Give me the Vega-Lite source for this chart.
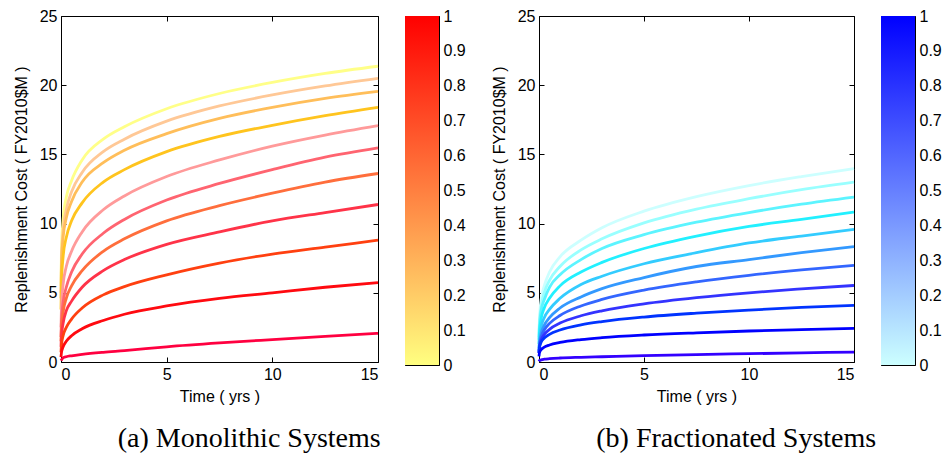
{
  "$schema": "https://vega.github.io/schema/vega-lite/v6.json",
  "background": "white",
  "padding": {"left": 12, "top": 7, "right": 3, "bottom": 5},
  "datasets": {
    "mono": [
      {"t": 0, "L1": 5.5, "L2": 5.0, "L3": 4.6, "L4": 3.8, "L5": 2.5, "L6": 1.8, "L7": 1.5, "L8": 1.1, "L9": 0.7, "L10": 0.35, "L11": 0.1},
      {"t": 0.02, "L1": 8.0, "L2": 7.3, "L3": 6.9, "L4": 5.7, "L5": 3.9, "L6": 2.9, "L7": 2.4, "L8": 1.8, "L9": 1.2, "L10": 0.66, "L11": 0.15},
      {"t": 0.1, "L1": 10.3, "L2": 9.5, "L3": 9.0, "L4": 7.6, "L5": 5.6, "L6": 4.3, "L7": 3.6, "L8": 2.8, "L9": 1.9, "L10": 1.1, "L11": 0.3},
      {"t": 0.25, "L1": 11.9, "L2": 11.0, "L3": 10.4, "L4": 9.0, "L5": 6.9, "L6": 5.4, "L7": 4.6, "L8": 3.7, "L9": 2.5, "L10": 1.5, "L11": 0.38},
      {"t": 0.5, "L1": 13.1, "L2": 12.3, "L3": 11.6, "L4": 10.2, "L5": 8.0, "L6": 6.5, "L7": 5.5, "L8": 4.4, "L9": 3.1, "L10": 1.9, "L11": 0.45},
      {"t": 1, "L1": 14.6, "L2": 13.7, "L3": 13.0, "L4": 11.5, "L5": 9.4, "L6": 7.8, "L7": 6.6, "L8": 5.4, "L9": 3.9, "L10": 2.4, "L11": 0.55},
      {"t": 2, "L1": 16.1, "L2": 15.2, "L3": 14.4, "L4": 13.0, "L5": 11.0, "L6": 9.3, "L7": 8.0, "L8": 6.6, "L9": 4.85, "L10": 3.0, "L11": 0.7},
      {"t": 3, "L1": 17.0, "L2": 16.1, "L3": 15.3, "L4": 13.9, "L5": 12.0, "L6": 10.3, "L7": 8.9, "L8": 7.4, "L9": 5.45, "L10": 3.45, "L11": 0.82},
      {"t": 5, "L1": 18.3, "L2": 17.4, "L3": 16.5, "L4": 15.2, "L5": 13.4, "L6": 11.7, "L7": 10.2, "L8": 8.5, "L9": 6.3, "L10": 4.05, "L11": 1.1},
      {"t": 7.5, "L1": 19.4, "L2": 18.5, "L3": 17.6, "L4": 16.3, "L5": 14.6, "L6": 12.9, "L7": 11.3, "L8": 9.4, "L9": 7.15, "L10": 4.6, "L11": 1.38},
      {"t": 10, "L1": 20.2, "L2": 19.3, "L3": 18.4, "L4": 17.1, "L5": 15.6, "L6": 13.9, "L7": 12.2, "L8": 10.2, "L9": 7.8, "L10": 5.0, "L11": 1.62},
      {"t": 12.5, "L1": 20.85, "L2": 19.95, "L3": 19.05, "L4": 17.8, "L5": 16.4, "L6": 14.8, "L7": 13.0, "L8": 10.8, "L9": 8.3, "L10": 5.4, "L11": 1.85},
      {"t": 15, "L1": 21.37, "L2": 20.5, "L3": 19.56, "L4": 18.4, "L5": 17.08, "L6": 15.47, "L7": 13.62, "L8": 11.38, "L9": 8.8, "L10": 5.73, "L11": 2.07}
    ],
    "frac": [
      {"t": 0, "R1": 2.0, "R2": 1.8, "R3": 1.6, "R4": 1.3, "R5": 1.0, "R6": 0.8, "R7": 0.7, "R8": 0.65, "R9": 0.65, "R10": 0.4, "R11": 0.05},
      {"t": 0.02, "R1": 3.1, "R2": 2.8, "R3": 2.5, "R4": 2.1, "R5": 1.6, "R6": 1.3, "R7": 1.17, "R8": 1.06, "R9": 1.02, "R10": 0.65, "R11": 0.1},
      {"t": 0.1, "R1": 4.5, "R2": 4.0, "R3": 3.7, "R4": 3.1, "R5": 2.5, "R6": 2.05, "R7": 1.8, "R8": 1.58, "R9": 1.43, "R10": 0.89, "R11": 0.15},
      {"t": 0.25, "R1": 5.5, "R2": 5.0, "R3": 4.5, "R4": 3.9, "R5": 3.2, "R6": 2.65, "R7": 2.31, "R8": 1.99, "R9": 1.73, "R10": 1.07, "R11": 0.2},
      {"t": 0.5, "R1": 6.5, "R2": 5.9, "R3": 5.4, "R4": 4.6, "R5": 3.8, "R6": 3.2, "R7": 2.79, "R8": 2.36, "R9": 2.0, "R10": 1.23, "R11": 0.24},
      {"t": 1, "R1": 7.6, "R2": 6.9, "R3": 6.3, "R4": 5.5, "R5": 4.6, "R6": 3.9, "R7": 3.36, "R8": 2.81, "R9": 2.31, "R10": 1.41, "R11": 0.29},
      {"t": 2, "R1": 8.8, "R2": 8.1, "R3": 7.4, "R4": 6.5, "R5": 5.6, "R6": 4.7, "R7": 4.05, "R8": 3.34, "R9": 2.68, "R10": 1.62, "R11": 0.34},
      {"t": 3, "R1": 9.7, "R2": 8.9, "R3": 8.2, "R4": 7.2, "R5": 6.2, "R6": 5.3, "R7": 4.52, "R8": 3.7, "R9": 2.92, "R10": 1.76, "R11": 0.38},
      {"t": 5, "R1": 10.9, "R2": 10.05, "R3": 9.2, "R4": 8.2, "R5": 7.1, "R6": 6.1, "R7": 5.19, "R8": 4.2, "R9": 3.25, "R10": 1.95, "R11": 0.46},
      {"t": 7.5, "R1": 11.95, "R2": 11.05, "R3": 10.1, "R4": 9.1, "R5": 7.9, "R6": 6.9, "R7": 5.79, "R8": 4.65, "R9": 3.53, "R10": 2.11, "R11": 0.54},
      {"t": 10, "R1": 12.75, "R2": 11.8, "R3": 10.8, "R4": 9.8, "R5": 8.6, "R6": 7.4, "R7": 6.26, "R8": 5.0, "R9": 3.75, "R10": 2.24, "R11": 0.6},
      {"t": 12.5, "R1": 13.4, "R2": 12.45, "R3": 11.4, "R4": 10.3, "R5": 9.1, "R6": 7.9, "R7": 6.65, "R8": 5.28, "R9": 3.94, "R10": 2.34, "R11": 0.66},
      {"t": 15, "R1": 13.98, "R2": 12.99, "R3": 11.91, "R4": 10.83, "R5": 9.58, "R6": 8.33, "R7": 6.98, "R8": 5.53, "R9": 4.09, "R10": 2.43, "R11": 0.72}
    ],
    "bar": [{"x0": 0, "x1": 1, "y0": 0, "y1": 1}]
  },
  "spacing": 24,
  "resolve": {"scale": {"stroke": "independent"}},
  "hconcat": [
    {
      "spacing": 19,
      "title": {"text": "(a) Monolithic Systems", "orient": "bottom", "anchor": "middle", "offset": 20, "dx": 10},
      "hconcat": [
        {
          "width": 317, "height": 346,
          "data": {"name": "mono"},
          "transform": [{"fold": ["L1","L2","L3","L4","L5","L6","L7","L8","L9","L10","L11"], "as": ["s", "v"]}],
          "layer": [
            {
              "mark": {"type": "line", "strokeWidth": 2.8, "interpolate": "monotone"},
              "encoding": {
                "x": {"field": "t", "type": "quantitative", "scale": {"domain": [0, 15], "nice": false},
                      "axis": {"orient": "bottom", "values": [0, 5, 10, 15], "title": "Time ( yrs )"}},
                "y": {"field": "v", "type": "quantitative", "scale": {"domain": [0, 25], "nice": false},
                      "axis": {"orient": "left", "values": [0, 5, 10, 15, 20, 25], "title": "Replenishment Cost ( FY2010$M )", "titlePadding": 10}},
                "stroke": {"field": "s", "type": "nominal",
                           "scale": {"domain": ["L1","L2","L3","L4","L5","L6","L7","L8","L9","L10","L11"],
                                     "range": ["#ffff88","#ffc896","#ffbe5a","#ffc41e","#ff9a9a","#ff6470","#ff6e3c","#ff3348","#ff4010","#ff0a10","#ff0040"]},
                           "legend": null}
              }
            },
            {
              "mark": {"type": "line", "opacity": 0},
              "encoding": {
                "x": {"field": "t", "type": "quantitative", "axis": {"orient": "top", "values": [0, 5, 10, 15], "labels": false, "title": null}},
                "y": {"field": "v", "type": "quantitative", "axis": {"orient": "right", "values": [0, 5, 10, 15, 20, 25], "labels": false, "title": null}},
                "detail": {"field": "s"}
              }
            }
          ],
          "resolve": {"axis": {"x": "independent", "y": "independent"}}
        },
        {
          "width": 34, "height": 349,
          "data": {"name": "bar"},
          "layer": [
            {
              "mark": {"type": "rect", "fill": {"gradient": "linear", "x1": 0, "y1": 1, "x2": 0, "y2": 0,
                        "stops": [{"offset": 0, "color": "#ffff80"}, {"offset": 1, "color": "#ff0000"}]}},
              "encoding": {
                "x": {"field": "x0", "type": "quantitative", "scale": {"domain": [0, 1], "nice": false}, "axis": null},
                "x2": {"field": "x1"},
                "y": {"field": "y0", "type": "quantitative", "scale": {"domain": [0, 1], "nice": false},
                      "axis": {"orient": "right", "values": [0, 0.1, 0.2, 0.3, 0.4, 0.5, 0.6, 0.7, 0.8, 0.9, 1], "format": "~g", "title": null}},
                "y2": {"field": "y1"}
              }
            },
            {
              "mark": {"type": "rect", "opacity": 0},
              "encoding": {
                "x": {"field": "x0", "type": "quantitative", "axis": null},
                "x2": {"field": "x1"},
                "y": {"field": "y0", "type": "quantitative",
                      "axis": {"orient": "left", "values": [0, 0.1, 0.2, 0.3, 0.4, 0.5, 0.6, 0.7, 0.8, 0.9, 1], "labels": false, "title": null}},
                "y2": {"field": "y1"}
              }
            }
          ],
          "resolve": {"axis": {"y": "independent"}}
        }
      ]
    },
    {
      "spacing": 19,
      "title": {"text": "(b) Fractionated Systems", "orient": "bottom", "anchor": "middle", "offset": 20, "dx": 20},
      "hconcat": [
        {
          "width": 315, "height": 346,
          "data": {"name": "frac"},
          "transform": [{"fold": ["R1","R2","R3","R4","R5","R6","R7","R8","R9","R10","R11"], "as": ["s", "v"]}],
          "layer": [
            {
              "mark": {"type": "line", "strokeWidth": 2.8, "interpolate": "monotone"},
              "encoding": {
                "x": {"field": "t", "type": "quantitative", "scale": {"domain": [0, 15], "nice": false},
                      "axis": {"orient": "bottom", "values": [0, 5, 10, 15], "title": "Time ( yrs )"}},
                "y": {"field": "v", "type": "quantitative", "scale": {"domain": [0, 25], "nice": false},
                      "axis": {"orient": "left", "values": [0, 5, 10, 15, 20, 25], "title": "Replenishment Cost ( FY2010$M )", "titlePadding": 10}},
                "stroke": {"field": "s", "type": "nominal",
                           "scale": {"domain": ["R1","R2","R3","R4","R5","R6","R7","R8","R9","R10","R11"],
                                     "range": ["#ccffff","#99ffff","#5cf4ff","#22f0ff","#33ccff","#3399ff","#3366ff","#3333ff","#0033ff","#0000ff","#3300ff"]},
                           "legend": null}
              }
            },
            {
              "mark": {"type": "line", "opacity": 0},
              "encoding": {
                "x": {"field": "t", "type": "quantitative", "axis": {"orient": "top", "values": [0, 5, 10, 15], "labels": false, "title": null}},
                "y": {"field": "v", "type": "quantitative", "axis": {"orient": "right", "values": [0, 5, 10, 15, 20, 25], "labels": false, "title": null}},
                "detail": {"field": "s"}
              }
            }
          ],
          "resolve": {"axis": {"x": "independent", "y": "independent"}}
        },
        {
          "width": 34, "height": 349,
          "data": {"name": "bar"},
          "layer": [
            {
              "mark": {"type": "rect", "fill": {"gradient": "linear", "x1": 0, "y1": 1, "x2": 0, "y2": 0,
                        "stops": [{"offset": 0, "color": "#ccffff"}, {"offset": 1, "color": "#0000ff"}]}},
              "encoding": {
                "x": {"field": "x0", "type": "quantitative", "scale": {"domain": [0, 1], "nice": false}, "axis": null},
                "x2": {"field": "x1"},
                "y": {"field": "y0", "type": "quantitative", "scale": {"domain": [0, 1], "nice": false},
                      "axis": {"orient": "right", "values": [0, 0.1, 0.2, 0.3, 0.4, 0.5, 0.6, 0.7, 0.8, 0.9, 1], "format": "~g", "title": null}},
                "y2": {"field": "y1"}
              }
            },
            {
              "mark": {"type": "rect", "opacity": 0},
              "encoding": {
                "x": {"field": "x0", "type": "quantitative", "axis": null},
                "x2": {"field": "x1"},
                "y": {"field": "y0", "type": "quantitative",
                      "axis": {"orient": "left", "values": [0, 0.1, 0.2, 0.3, 0.4, 0.5, 0.6, 0.7, 0.8, 0.9, 1], "labels": false, "title": null}},
                "y2": {"field": "y1"}
              }
            }
          ],
          "resolve": {"axis": {"y": "independent"}}
        }
      ]
    }
  ],
  "config": {
    "view": {"stroke": "#000", "strokeWidth": 1},
    "axis": {
      "domain": false, "grid": false,
      "tickSize": -5, "tickColor": "#000", "tickWidth": 1,
      "labelPadding": 9,
      "labelFont": "Liberation Sans", "labelFontSize": 16, "labelColor": "#000",
      "titleFont": "Liberation Sans", "titleFontSize": 16, "titleFontWeight": "normal", "titleColor": "#000",
      "titlePadding": 6
    },
    "title": {"font": "Liberation Serif", "fontSize": 28, "fontWeight": "normal", "color": "#000"}
  }
}
